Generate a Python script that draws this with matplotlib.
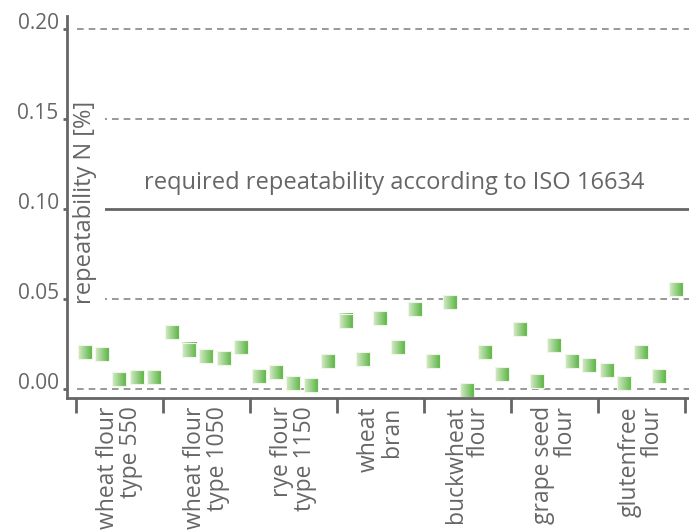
# -*- coding: utf-8 -*-
import numpy as np
import matplotlib
matplotlib.use('Agg')
import matplotlib.pyplot as plt
from matplotlib.colors import LinearSegmentedColormap

plt.rcParams['font.family'] = ['Open Sans', 'DejaVu Sans']

# 样品
categories = ['wheat flour\ntype 550', 'wheat flour\ntype 1050', 'rye flour\ntype 1150',
              'wheat\nbran', 'buckwheat\nflour', 'grape seed\nflour', 'glutenfree\nflour']
# 每组五次测量的重复性
rep_550 = [0.0204, 0.0194, 0.0054, 0.0065, 0.0065]
rep_1050 = [0.0315, 0.0215, 0.0183, 0.0174, 0.0233]
rep_1150 = [0.0072, 0.0094, 0.0033, 0.0024, 0.0154]
rep_bran = [0.0376, 0.0165, 0.0394, 0.0233, 0.0446]
rep_buck = [0.0154, 0.0485, -0.0006, 0.0204, 0.0085]
rep_grape = [0.0335, 0.0044, 0.0246, 0.0154, 0.0135]
rep_gluten = [0.0104, 0.0035, 0.0204, 0.0074, 0.0556]
groups = [rep_550, rep_1050, rep_1150, rep_bran, rep_buck, rep_grape, rep_gluten]
limit = 0.10
limit_text = 'required repeatability according to ISO 16634'
grid_vals = [0.0, 0.05, 0.15, 0.20]

grey = '#666666'
fig = plt.figure(figsize=(6.89, 5.32), dpi=100)
ax = fig.add_axes([67 / 689, 134 / 532, 622 / 689, 382 / 532])

x0, x1 = -0.1034, 7.046
y0, y1 = -0.005, 0.2072

# 渐变方块
cmap = LinearSegmentedColormap.from_list('g', ['#d6ecc9', '#5db546'])
grad = np.linspace(0, 1, 64).reshape(1, -1)
hw = 7 / 622 * (x1 - x0)
hh = 7 / 382 * (y1 - y0)
for g, vals in enumerate(groups):
    for j, v in enumerate(vals):
        x = g + (j + 0.5) / len(vals)
        ax.imshow(grad, cmap=cmap, extent=[x - hw, x + hw, v - hh, v + hh],
                  aspect='auto', interpolation='bilinear', zorder=4)
        ax.add_patch(plt.Rectangle((x - hw, v - hh), 2 * hw, 2 * hh, fill=False,
                                   edgecolor='#eef7e8', lw=0.8, zorder=5))

ax.hlines(grid_vals, 0.01, x1, colors='#888888', linestyles=(0, (4, 3)), lw=1.2, zorder=1)
ax.axhline(limit, color=grey, lw=2, zorder=2)
ax.text(3.655, 0.1144, limit_text, ha='center', va='center', fontsize=17, color=grey)

ax.text(0.103, 0.1035, 'repeatability N [%]', rotation=90, ha='center', va='center',
        fontsize=17, color=grey, zorder=3,
        bbox=dict(boxstyle='square,pad=0.35', facecolor='white', edgecolor='none'))

ax.set_xlim(x0, x1)
ax.set_ylim(y0, y1)

for s in ['top', 'right']:
    ax.spines[s].set_visible(False)
for s in ['left', 'bottom']:
    ax.spines[s].set_color(grey)
    ax.spines[s].set_linewidth(2)
    ax.spines[s].set_zorder(8)
ax.xaxis.set_zorder(8)
ax.yaxis.set_zorder(8)

ax.set_yticks(grid_vals + [limit])
ax.set_yticklabels(['%.2f' % v for v in grid_vals + [limit]])
ax.tick_params(axis='y', length=3, width=2, color=grey, labelcolor=grey, labelsize=15, pad=3)
for t in ax.get_yticklabels():
    t.set_verticalalignment('baseline')

ax.set_xticks(range(len(categories) + 1))
ax.set_xticklabels([])
ax.set_xticks(np.arange(len(categories)) + 0.5, minor=True)
ax.set_xticklabels(categories, minor=True, rotation=90, va='top', ha='center',
                   multialignment='right', linespacing=0.95)
ax.tick_params(axis='x', which='major', length=11, width=2, color=grey)
ax.tick_params(axis='x', which='minor', length=0, labelcolor=grey, labelsize=16.5, pad=6)

fig.savefig('out.png', dpi=100)
